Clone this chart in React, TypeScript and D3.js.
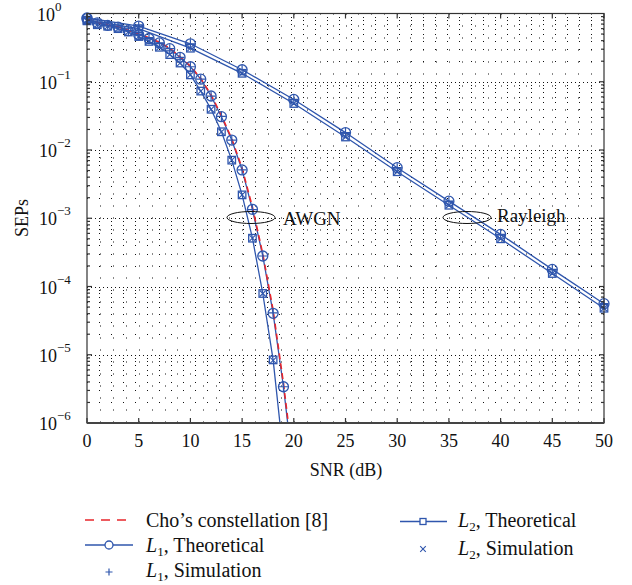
import { useEffect } from "react";
import * as d3 from "d3";

// SNR grids (dB)
const awgnSnr = [0, 1, 2, 3, 4, 5, 6, 7, 8, 9, 10, 11, 12, 13, 14, 15, 16, 17, 18, 19, 20];
const raySnr = [0, 5, 10, 15, 20, 25, 30, 35, 40, 45, 50];

// AWGN curves
const choAwgn = [0.85, 0.74, 0.68, 0.64, 0.57, 0.5, 0.44, 0.38, 0.31, 0.232, 0.17, 0.112, 0.064, 0.032, 0.0146, 0.0054, 0.00145, 3.0e-4, 4.5e-5, 3.8e-6, 2.2e-7];
const awgnL1Theo = [0.84, 0.73, 0.67, 0.63, 0.56, 0.49, 0.43, 0.37, 0.305, 0.228, 0.166, 0.109, 0.0618, 0.0308, 0.014, 0.0051, 0.00135, 2.8e-4, 4.05e-5, 3.4e-6, 1.7e-7];
const awgnL1Sim = [0.84, 0.73, 0.67, 0.63, 0.56, 0.49, 0.43, 0.37, 0.305, 0.228, 0.166, 0.109, 0.0615, 0.031, 0.014, 0.0051, 0.00134, 2.8e-4, 4.1e-5, 3.4e-6];
const awgnL2Theo = [0.78, 0.685, 0.65, 0.6, 0.536, 0.46, 0.39, 0.32, 0.25, 0.188, 0.126, 0.073, 0.0395, 0.0185, 0.0071, 0.0022, 5.1e-4, 7.9e-5, 8.4e-6, 3.3e-7];
const awgnL2Sim = [0.78, 0.685, 0.65, 0.6, 0.536, 0.46, 0.39, 0.32, 0.25, 0.188, 0.126, 0.073, 0.0395, 0.0185, 0.0071, 0.0022, 5.1e-4, 7.9e-5, 8.3e-6];

// Rayleigh curves
const rayL1Theo = [0.86, 0.655, 0.36, 0.15, 0.055, 0.018, 0.0055, 0.00178, 5.8e-4, 1.78e-4, 5.6e-5];
const rayL1Sim = [0.86, 0.655, 0.36, 0.15, 0.055, 0.018, 0.0055, 0.00178, 5.8e-4, 1.78e-4, 5.6e-5];
const rayL2Theo = [0.8, 0.6, 0.31, 0.133, 0.048, 0.0155, 0.0048, 0.00155, 5.0e-4, 1.55e-4, 4.8e-5];
const rayL2Sim = [0.8, 0.6, 0.31, 0.133, 0.048, 0.0155, 0.0048, 0.00155, 5.0e-4, 1.55e-4, 4.8e-5];

const xTicks = [0, 5, 10, 15, 20, 25, 30, 35, 40, 45, 50];
const yDecades = [-6, -5, -4, -3, -2, -1, 0];

const BLUE = "#2f56ad";
const RED = "#e8262b";
const FONT = "Liberation Serif, Times New Roman, DejaVu Serif, serif";

const left = 87, right = 604, top = 13.5, bottom = 423;
const x = d3.scaleLinear().domain([0, 50]).range([left, right]);
const y = d3.scaleLog().domain([1e-6, 1]).range([bottom, top]);

const pts = (xs: number[], ys: number[]) => ys.map((v, i) => [xs[i], v] as [number, number]);
const line = d3.line<[number, number]>().x((d) => x(d[0])).y((d) => y(d[1]));
const inRange = (v: number) => v >= 1e-6;

function Circle({ cx, cy, r = 5 }: { cx: number; cy: number; r?: number }) {
  return <circle cx={cx} cy={cy} r={r} fill="none" stroke={BLUE} strokeWidth={1.3} />;
}
function Square({ cx, cy, s = 7.5 }: { cx: number; cy: number; s?: number }) {
  return <rect x={cx - s / 2} y={cy - s / 2} width={s} height={s} fill="none" stroke={BLUE} strokeWidth={1.3} />;
}
function Plus({ cx, cy, s = 4.5 }: { cx: number; cy: number; s?: number }) {
  return <path d={`M${cx - s},${cy}H${cx + s}M${cx},${cy - s}V${cy + s}`} stroke={BLUE} strokeWidth={1.2} />;
}
function Cross({ cx, cy, s = 3 }: { cx: number; cy: number; s?: number }) {
  return <path d={`M${cx - s},${cy - s}L${cx + s},${cy + s}M${cx - s},${cy + s}L${cx + s},${cy - s}`} stroke={BLUE} strokeWidth={1.1} />;
}

function Sub({ n, label }: { n: string; label: string }) {
  return (
    <>
      <tspan fontStyle="italic">L</tspan>
      <tspan fontSize={13} dy={4}>{n}</tspan>
      <tspan dy={-4}>{label}</tspan>
    </>
  );
}

export default function App() {
  useEffect(() => {
    document.body.style.margin = "0";
  }, []);

  const minorY: number[] = [];
  yDecades.slice(0, -1).forEach((d) => {
    for (let m = 2; m <= 9; m++) minorY.push(m * Math.pow(10, d));
  });
  const majorY = yDecades.slice(1, -1).map((d) => Math.pow(10, d));
  const gridX = d3.range(1, 40).map((i) => i * 1.25);

  return (
    <svg width={632} height={585} style={{ display: "block" }} fontFamily={FONT}>
      <defs>
        <clipPath id="plot">
          <rect x={left} y={top} width={right - left} height={bottom - top} />
        </clipPath>
      </defs>
      <rect width={632} height={585} fill="#fff" />

      {/* grid */}
      <g stroke="#111" strokeWidth={1} fill="none">
        {minorY.map((v, i) => (
          <line key={"hy" + i} x1={left} x2={right} y1={Math.round(y(v)) + 0.5} y2={Math.round(y(v)) + 0.5} strokeDasharray="1 11" />
        ))}
        {majorY.map((v, i) => (
          <line key={"hM" + i} x1={left} x2={right} y1={Math.round(y(v)) + 0.5} y2={Math.round(y(v)) + 0.5} strokeDasharray="1 3" />
        ))}
        {gridX.map((v, i) => (
          <line key={"vx" + i} x1={Math.round(x(v)) + 0.5} x2={Math.round(x(v)) + 0.5} y1={top} y2={bottom} strokeDasharray="1 11" />
        ))}
      </g>

      {/* curves */}
      <g clipPath="url(#plot)" fill="none" strokeWidth={1.3}>
        <path d={line(pts(awgnSnr, awgnL1Theo)) || ""} stroke={BLUE} />
        <path d={line(pts(awgnSnr, awgnL2Theo)) || ""} stroke={BLUE} />
        <path d={line(pts(raySnr, rayL1Theo)) || ""} stroke={BLUE} />
        <path d={line(pts(raySnr, rayL2Theo)) || ""} stroke={BLUE} />
        <path d={line(pts(awgnSnr, choAwgn)) || ""} stroke={RED} strokeWidth={1.6} strokeDasharray="6 4" />
      </g>

      {/* markers */}
      <g>
        {awgnL1Theo.map((v, i) => inRange(v) && <Circle key={"a1t" + i} cx={x(awgnSnr[i])} cy={y(v)} />)}
        {awgnL1Sim.map((v, i) => inRange(v) && <Plus key={"a1s" + i} cx={x(awgnSnr[i])} cy={y(v)} />)}
        {awgnL2Theo.map((v, i) => inRange(v) && <Square key={"a2t" + i} cx={x(awgnSnr[i])} cy={y(v)} />)}
        {awgnL2Sim.map((v, i) => inRange(v) && <Cross key={"a2s" + i} cx={x(awgnSnr[i])} cy={y(v)} />)}
        {rayL1Theo.map((v, i) => <Circle key={"r1t" + i} cx={x(raySnr[i])} cy={y(v)} />)}
        {rayL1Sim.map((v, i) => <Plus key={"r1s" + i} cx={x(raySnr[i])} cy={y(v)} />)}
        {rayL2Theo.map((v, i) => <Square key={"r2t" + i} cx={x(raySnr[i])} cy={y(v)} />)}
        {rayL2Sim.map((v, i) => <Cross key={"r2s" + i} cx={x(raySnr[i])} cy={y(v)} />)}
      </g>

      {/* annotations */}
      <ellipse cx={251} cy={217.5} rx={24} ry={6} fill="none" stroke="#111" strokeWidth={1} />
      <text x={283} y={225} fontSize={19} fill="#111">AWGN</text>
      <ellipse cx={467} cy={217.5} rx={24} ry={6} fill="none" stroke="#111" strokeWidth={1} />
      <text x={497} y={222} fontSize={19} fill="#111">Rayleigh</text>

      {/* frame + ticks */}
      <g stroke="#333" strokeWidth={1.2} fill="none">
        <rect x={left} y={top} width={right - left} height={bottom - top} />
        {xTicks.map((t) => (
          <g key={"xt" + t}>
            <line x1={x(t)} x2={x(t)} y1={bottom} y2={bottom - 5} />
            <line x1={x(t)} x2={x(t)} y1={top} y2={top + 5} />
          </g>
        ))}
        {majorY.map((v, i) => (
          <g key={"ytM" + i}>
            <line x1={left} x2={left + 5} y1={y(v)} y2={y(v)} />
            <line x1={right} x2={right - 5} y1={y(v)} y2={y(v)} />
          </g>
        ))}
        {minorY.map((v, i) => (
          <g key={"ytm" + i}>
            <line x1={left} x2={left + 3} y1={y(v)} y2={y(v)} />
            <line x1={right} x2={right - 3} y1={y(v)} y2={y(v)} />
          </g>
        ))}
      </g>
      <line x1={left} x2={right} y1={bottom} y2={bottom} stroke="#444" strokeWidth={2} />

      {/* tick labels */}
      <g fontSize={18} fill="#111">
        {xTicks.map((t) => (
          <text key={"xl" + t} x={x(t)} y={447} textAnchor="middle">{t}</text>
        ))}
        {yDecades.map((d) => (
          <text key={"yl" + d} x={d === 0 ? 55 : 57} y={y(Math.pow(10, d)) + 7} textAnchor="end">
            10
          </text>
        ))}
        {yDecades.map((d) => (
          <text key={"ys" + d} x={d === 0 ? 55 : 57} y={y(Math.pow(10, d)) - 3} fontSize={13}>
            {d === 0 ? "0" : "\u2212" + -d}
          </text>
        ))}
      </g>

      {/* axis titles */}
      <text x={346} y={476} textAnchor="middle" fontSize={18} fill="#111">SNR (dB)</text>
      <text transform="translate(28,218) rotate(-90)" textAnchor="middle" fontSize={18} fill="#111">SEPs</text>

      {/* legend */}
      <g fontSize={20} fill="#111">
        <line x1={85} x2={133} y1={520} y2={520} stroke={RED} strokeWidth={1.6} strokeDasharray="9 7" />
        <text x={146} y={527}>Cho’s constellation [8]</text>

        <line x1={85} x2={133} y1={545} y2={545} stroke={BLUE} strokeWidth={1.3} />
        <circle cx={109} cy={545} r={4} fill="#fff" stroke={BLUE} strokeWidth={1.3} />
        <text x={146} y={552}><Sub n="1" label=", Theoretical" /></text>

        <Plus cx={109} cy={572} s={3.5} />
        <text x={146} y={577}><Sub n="1" label=", Simulation" /></text>

        <line x1={400} x2={447} y1={521.5} y2={521.5} stroke={BLUE} strokeWidth={1.3} />
        <rect x={420} y={518.5} width={6} height={6} fill="#fff" stroke={BLUE} strokeWidth={1.3} />
        <text x={458} y={527}><Sub n="2" label=", Theoretical" /></text>

        <Cross cx={423} cy={549} s={2.8} />
        <text x={458} y={555}><Sub n="2" label=", Simulation" /></text>
      </g>
    </svg>
  );
}
